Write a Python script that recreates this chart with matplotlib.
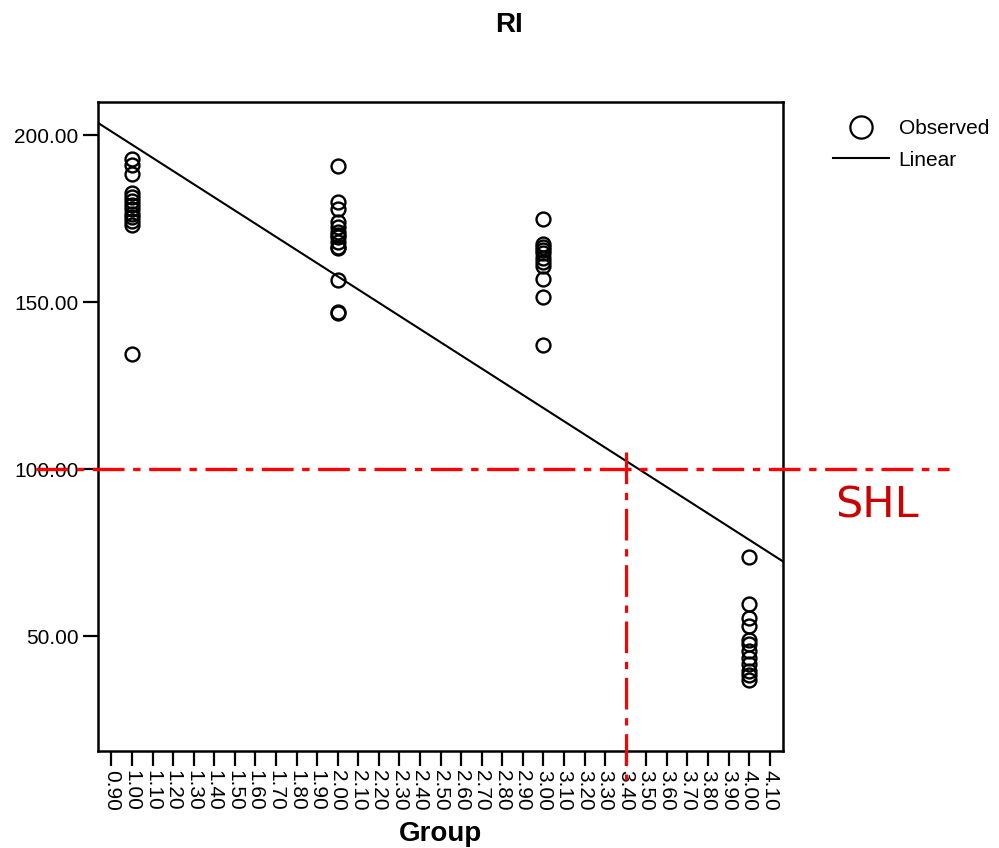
import numpy as np
import matplotlib
matplotlib.use("Agg")
import matplotlib.pyplot as plt
import matplotlib.transforms as mtransforms
from matplotlib.lines import Line2D

plt.rcParams['font.family'] = ['Liberation Sans', 'DejaVu Sans']

# observed RI values per group
group1 = [192.8, 191.0, 188.3, 182.6, 181.6, 180.2, 179.0, 177.8, 176.5, 175.6, 174.4, 173.2, 134.4]
group2 = [190.7, 179.9, 177.8, 174.0, 172.5, 171.0, 170.0, 169.5, 168.0, 166.5, 166.2, 156.6, 147.0, 146.8]
group3 = [174.9, 167.4, 166.5, 165.5, 164.7, 163.2, 162.0, 160.8, 156.9, 151.5, 137.1]
group4 = [73.7, 59.6, 55.5, 53.0, 48.8, 47.5, 45.5, 43.4, 41.7, 39.6, 38.5, 37.0]
groups = [1.0, 2.0, 3.0, 4.0]

xticks = np.round(np.arange(0.9, 4.11, 0.1), 2)
yticks = [50, 100, 150, 200]
shl_value = 100
cut_group = 3.40

xs = np.concatenate([[g] * len(v) for g, v in zip(groups, [group1, group2, group3, group4])])
ys = np.concatenate([group1, group2, group3, group4])

fig = plt.figure(figsize=(9.99, 8.48), dpi=100)
ax = fig.add_axes([0.0981, 0.1144, 0.6857, 0.7653])

ax.set_xlim(0.835, 4.165)
ax.set_ylim(15.6, 209.9)

ax.plot(xs, ys, 'o', ms=10, mfc='none', mec='black', mew=1.7, clip_on=False)

slope, intercept = np.polyfit(xs, ys, 1)
xl = np.array(ax.get_xlim())
ax.plot(xl, intercept + slope * xl, color='black', lw=1.5)

# SHL reference lines (extend beyond the axes)
red_dash = (0, (9.5, 2.6, 2.2, 2.6))
htrans = mtransforms.blended_transform_factory(fig.transFigure, ax.transData)
ax.plot([0.036, 0.95], [shl_value, shl_value], color='#ff0000', lw=2.4,
        linestyle=red_dash, transform=htrans, clip_on=False, zorder=5)
vtrans = mtransforms.blended_transform_factory(ax.transData, fig.transFigure)
ax.plot([cut_group, cut_group], [1 - 452 / 848, 1 - 780 / 848], color='#ff0000', lw=2.4,
        linestyle=red_dash, transform=vtrans, clip_on=False, zorder=5)

fig.text(835 / 999, 1 - 517 / 848, 'SHL', color='#cc0000', fontsize=31,
         family='DejaVu Sans', va='baseline', ha='left')

ax.set_xticks(xticks)
ax.set_xticklabels(['%.2f' % t for t in xticks], rotation=-90)
ax.set_yticks(yticks)
ax.set_yticklabels(['%.2f' % t for t in yticks])
ax.tick_params(axis='both', direction='out', length=11, width=1.6, labelsize=15, pad=3)

for s in ax.spines.values():
    s.set_linewidth(1.8)

ax.set_xlabel('Group', fontsize=20, fontweight='bold', labelpad=7)
fig.text(0.51, 1 - 25 / 848, 'RI', fontsize=20, fontweight='bold', ha='center', va='center')

handles = [Line2D([], [], marker='o', ls='none', ms=16, mfc='none', mec='black', mew=1.6),
           Line2D([], [], color='black', lw=1.5)]
ax.legend(handles, ['Observed', 'Linear'], loc='upper left',
          bbox_to_anchor=(833 / 999, 1 - 119 / 848), bbox_transform=fig.transFigure,
          frameon=False, fontsize=15, handlelength=2.7, handletextpad=0.45,
          labelspacing=0.6, borderpad=0, borderaxespad=0)

fig.savefig('out.png', dpi=100)
